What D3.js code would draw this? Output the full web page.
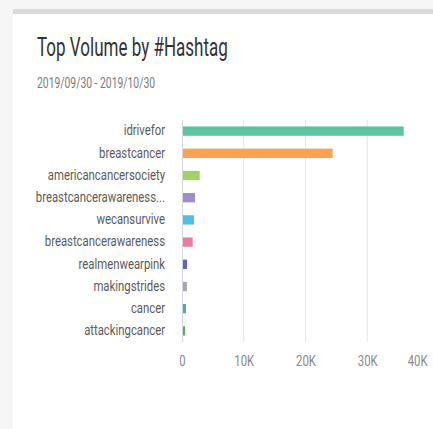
<!DOCTYPE html>
<html>
<head>
<meta charset="utf-8">
<script src="https://cdn.jsdelivr.net/npm/d3@7"></script>
<style>
  body { margin: 0; background: #f6f6f6; }
  text { font-family: Roboto, "Liberation Sans", sans-serif; }
</style>
</head>
<body>
<svg id="chart" width="433" height="429"></svg>
<script>
// hashtags, top to bottom
const tags = ["idrivefor", "breastcancer", "americancancersociety", "breastcancerawareness...",
  "wecansurvive", "breastcancerawareness", "realmenwearpink", "makingstrides", "cancer", "attackingcancer"]
const volumes = [35900, 24400, 2870, 2100, 1950, 1730, 810, 800, 650, 490]
const colors = ["#5cc4a0", "#fca150", "#a2d266", "#a08ccc", "#4dc0ea", "#f27aa2", "#6a60c8", "#a9a9b1", "#4aa7c2", "#4db353"]
const xTicks = [0, 10000, 20000, 30000, 40000]
const title = "Top Volume by #Hashtag"
const subtitle = "2019/09/30 - 2019/10/30"

const SQ = 0.81 // the text in the picture is narrow
let svg = d3.select("#chart")

//card and top band
svg.append("rect").attr("x", 0).attr("y", 0).attr("width", 433).attr("height", 429).attr("fill", "#f6f6f6")
svg.append("rect").attr("x", 13).attr("y", 9).attr("width", 420).attr("height", 5).attr("fill", "#d9d9d9")
svg.append("rect").attr("x", 13).attr("y", 14).attr("width", 420).attr("height", 415).attr("fill", "#fff")

svg.append("text").text(title)
  .attr("transform", `translate(37,56) scale(0.655,1)`)
  .attr("font-size", 26).attr("fill", "#333")
svg.append("text").text(subtitle)
  .attr("transform", `translate(37,88) scale(0.74,1)`)
  .attr("font-size", 14).attr("fill", "#7a7a7a")

let x = d3.scaleLinear().domain([0, 40000]).range([182, 429])
let y = d3.scaleBand().domain(tags).range([120, 342]).paddingInner(0.58).paddingOuter(0.29)

//grid, the 40K line falls off the card
svg.append("g").selectAll("line")
  .data(xTicks.slice(1, -1)).enter().append("line")
  .attr("x1", d => x(d)).attr("x2", d => x(d))
  .attr("y1", 120).attr("y2", 342)
  .attr("stroke", "#e3e5ea").attr("stroke-width", 1)

//x axis labels
let xAxis = svg.append("g").attr("transform", "translate(0,356)")
  .call(d3.axisBottom(x).tickValues(xTicks).tickSize(0)
    .tickFormat(d => d === 0 ? "0" : d / 1000 + "K"))
xAxis.select(".domain").remove()
xAxis.selectAll("text")
  .attr("font-size", 14).attr("fill", "#888").attr("font-family", null)
  .attr("y", 0).attr("dy", "0.71em")
  .attr("transform", `scale(${SQ},1)`)
  .filter(d => d === 40000).attr("text-anchor", "end").attr("x", -2 / SQ)

//y axis
let yAxis = svg.append("g").attr("transform", "translate(182,0)")
  .call(d3.axisLeft(y).tickSize(0))
yAxis.select(".domain").attr("stroke", "#d6d8e0").attr("d", "M0.5,120V342")
yAxis.selectAll("text")
  .attr("font-size", 14).attr("fill", "#5a5a5a").attr("font-family", null)
  .attr("x", -17 / SQ).attr("dy", "0.3em")
  .attr("transform", `scale(${SQ},1)`)

//bars
svg.append("g").selectAll("rect")
  .data(volumes).enter().append("rect")
  .attr("x", x(0) + 1)
  .attr("y", (d, i) => y(tags[i]))
  .attr("width", d => x(d) - x(0) - 1)
  .attr("height", y.bandwidth())
  .attr("fill", (d, i) => colors[i])
</script>
</body>
</html>
